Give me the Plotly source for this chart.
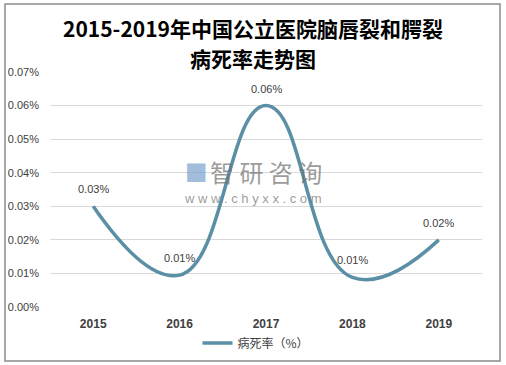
import plotly.graph_objects as go

years = ["2015", "2016", "2017", "2018", "2019"]
rates = [0.030, 0.0095, 0.060, 0.0088, 0.020]
labels = ["0.03%", "0.01%", "0.06%", "0.01%", "0.02%"]
y_ticks = [0.00, 0.01, 0.02, 0.03, 0.04, 0.05, 0.06, 0.07]
series_name = "病死率（%）"
title_line1 = "2015-2019年中国公立医院脑唇裂和腭裂"
title_line2 = "病死率走势图"

line_color = "#5B8FA5"

fig = go.Figure()
fig.add_trace(go.Scatter(
    x=years, y=rates, mode="lines", name=series_name,
    line=dict(color=line_color, width=3.5, shape="spline", smoothing=1.3),
    hoverinfo="skip",
))

for i, (y, t) in enumerate(zip(rates, labels)):
    fig.add_annotation(x=i, y=y, text=t, showarrow=False, yshift=17,
                       font=dict(size=11, color="#404040",
                                 family="Liberation Sans, Arial, sans-serif"))

title_font = dict(size=21, color="#000000", family="Noto Sans CJK SC, sans-serif",
                  weight="bold")
fig.add_annotation(xref="paper", yref="paper", x=(253 - 50) / 432, y=(307 - 58) / 235,
                   text=title_line2, showarrow=False, font=title_font,
                   xanchor="center", yanchor="middle")

# watermark
wm_color = "rgba(110,110,110,0.7)"
fig.add_annotation(xref="paper", yref="paper", x=(266 - 50) / 432, y=(307 - 171) / 235,
                   text="智 研 咨 询", showarrow=False,
                   font=dict(size=24, color=wm_color, family="Noto Sans CJK SC"))
fig.add_annotation(xref="paper", yref="paper", x=(253 - 50) / 432, y=(307 - 198) / 235,
                   text="w w w . c h y x x . c o m", showarrow=False,
                   font=dict(size=13, color=wm_color, family="Liberation Sans"))
fig.add_annotation(xref="paper", yref="paper", x=(196 - 50) / 432, y=(307 - 171) / 235,
                   text="■", showarrow=False,
                   font=dict(size=24, color="rgba(120,160,205,0.7)", family="DejaVu Sans"))

# outer border
fig.add_shape(type="rect", xref="paper", yref="paper",
              x0=(5 - 50) / 432, x1=(500 - 50) / 432,
              y0=(307 - 361) / 235, y1=(307 - 4) / 235,
              line=dict(color="#8C8C8C", width=1.5), fillcolor="rgba(0,0,0,0)")

fig.update_layout(
    width=506, height=365,
    margin=dict(l=50, r=24, t=72, b=58, autoexpand=False),
    paper_bgcolor="white", plot_bgcolor="white",
    title=dict(text=title_line1, x=0.5, xanchor="center", xref="container",
               y=1 - 30 / 365, yanchor="middle", yref="container", font=title_font),
    showlegend=True,
    legend=dict(orientation="h", x=(256 - 50) / 432, xanchor="center",
                y=(307 - 343) / 235, yanchor="middle",
                font=dict(size=12, color="#404040", family="Noto Sans CJK SC, sans-serif"),
                bgcolor="rgba(0,0,0,0)"),
    xaxis=dict(type="category", range=[-0.5, 4.5], showgrid=False, showline=False,
               zeroline=False, ticks="", ticklabelstandoff=8, automargin=False,
               tickfont=dict(size=12, color="#404040",
                             family="Liberation Sans, Arial, sans-serif", weight="bold")),
    yaxis=dict(range=[0, 0.07], tickvals=y_ticks,
               ticktext=[f"{v:.2f}%" for v in y_ticks],
               showgrid=True, gridcolor="#D9D9D9", gridwidth=1, automargin=False,
               showline=False, zeroline=False, ticks="", ticklabelstandoff=10,
               tickfont=dict(size=11, color="#404040",
                             family="Liberation Sans, Arial, sans-serif")),
)

fig.write_html("out.html", config={"displayModeBar": False},
               post_script="document.body.style.margin='0';document.body.style.overflow='hidden';")
